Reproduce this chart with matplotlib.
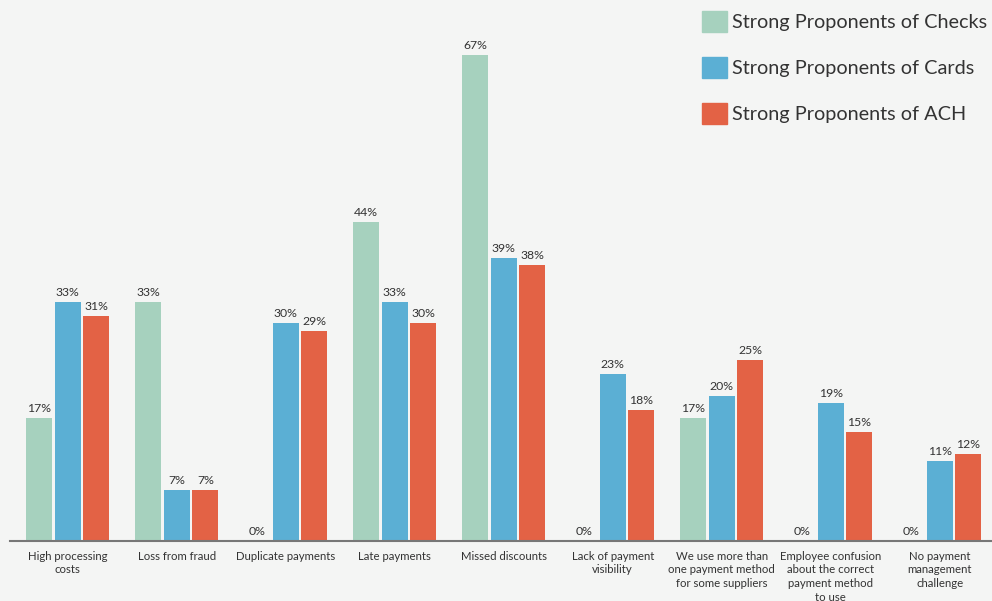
import numpy as np
import matplotlib.pyplot as plt
from matplotlib.patches import Patch

categories = ["High processing\ncosts", "Loss from fraud", "Duplicate payments",
              "Late payments", "Missed discounts", "Lack of payment\nvisibility",
              "We use more than\none payment method\nfor some suppliers",
              "Employee confusion\nabout the correct\npayment method\nto use",
              "No payment\nmanagement\nchallenge"]
checks = [17, 33, 0, 44, 67, 0, 17, 0, 0]
cards = [33, 7, 30, 33, 39, 23, 20, 19, 11]
ach = [31, 7, 29, 30, 38, 18, 25, 15, 12]
series_names = ["Strong Proponents of Checks", "Strong Proponents of Cards",
                "Strong Proponents of ACH"]
colors = ["#a6d1be", "#5bafd4", "#e36245"]

plt.rcParams['font.family'] = ['Lato', 'DejaVu Sans']
bg = "#f4f5f4"
fig = plt.figure(figsize=(9.92, 6.01), dpi=100, facecolor=bg)
ax = fig.add_axes([10/992, 60/601, 982/992, 541/601], facecolor=bg)

x = np.arange(len(categories))
w = 0.24
step = 0.262
for i, (vals, c) in enumerate(zip([checks, cards, ach], colors)):
    pos = x + (i - 1) * step
    ax.bar(pos, vals, width=w, color=c, zorder=2)
    for p, v in zip(pos, vals):
        ax.annotate(f"{v}%", (p, v), xytext=(0, 3), textcoords="offset points",
                    ha="center", va="bottom", fontsize=8.8, color="#333333")

ax.set_xlim(-0.53, 8.48)
ax.set_ylim(0, 74.6)
ax.set_yticks([])
ax.set_xticks(x)
ax.set_xticklabels(categories, fontsize=8.2, color="#333333", linespacing=1.3)
ax.tick_params(axis="x", length=0, pad=7)
for s in ["top", "right", "left"]:
    ax.spines[s].set_visible(False)
ax.spines["bottom"].set_color("#777777")
ax.spines["bottom"].set_linewidth(1.5)

handles = [Patch(color=c) for c in colors]
leg = fig.legend(handles, series_names, loc="upper right", bbox_to_anchor=(1.006, 1.0),
                 fontsize=14.3, frameon=False, handlelength=1.25, handleheight=1.25,
                 handletextpad=0.25, labelspacing=1.25, borderaxespad=0.15)
for t in leg.get_texts():
    t.set_color("#333333")

fig.savefig("out.png", dpi=100, facecolor=bg)
